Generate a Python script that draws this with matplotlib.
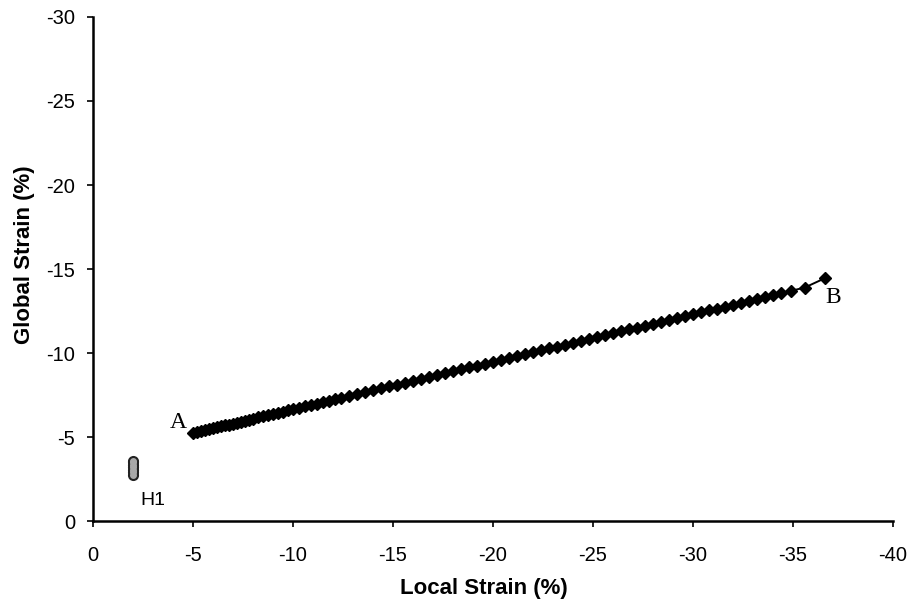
import matplotlib
matplotlib.use("Agg")
import matplotlib.pyplot as plt

# Local vs global strain along the loading path A -> B
local_strain = [
    -5.0, -5.2, -5.4, -5.6, -5.8, -6.0, -6.2, -6.4, -6.6, -6.8, -7.0, -7.2, -7.4,
    -7.6, -7.8, -8.0, -8.25, -8.5, -8.75, -9.0, -9.25, -9.5, -9.75, -10.0, -10.3,
    -10.6, -10.9, -11.2, -11.5, -11.8, -12.1, -12.4, -12.8, -13.2, -13.6, -14.0,
    -14.4, -14.8, -15.2, -15.6, -16.0, -16.4, -16.8, -17.2, -17.6, -18.0, -18.4,
    -18.8, -19.2, -19.6, -20.0, -20.4, -20.8, -21.2, -21.6, -22.0, -22.4, -22.8,
    -23.2, -23.6, -24.0, -24.4, -24.8, -25.2, -25.6, -26.0, -26.4, -26.8, -27.2,
    -27.6, -28.0, -28.4, -28.8, -29.2, -29.6, -30.0, -30.4, -30.8, -31.2, -31.6,
    -32.0, -32.4, -32.8, -33.2, -33.6, -34.0, -34.4, -34.9, -35.6, -36.6,
]
global_strain = [
    -5.25, -5.30, -5.36, -5.41, -5.47, -5.53, -5.58, -5.64, -5.70, -5.75, -5.81,
    -5.87, -5.92, -5.98, -6.04, -6.10, -6.17, -6.24, -6.31, -6.38, -6.45, -6.52,
    -6.59, -6.66, -6.75, -6.83, -6.92, -7.00, -7.09, -7.17, -7.26, -7.34, -7.45,
    -7.57, -7.68, -7.80, -7.91, -8.02, -8.13, -8.25, -8.36, -8.47, -8.59, -8.70,
    -8.81, -8.92, -9.04, -9.15, -9.26, -9.38, -9.49, -9.60, -9.72, -9.83, -9.94,
    -10.05, -10.17, -10.28, -10.39, -10.51, -10.62, -10.73, -10.85, -10.96, -11.07,
    -11.18, -11.30, -11.41, -11.52, -11.64, -11.75, -11.86, -11.98, -12.09, -12.20,
    -12.31, -12.43, -12.54, -12.65, -12.77, -12.88, -12.99, -13.11, -13.22, -13.33,
    -13.44, -13.56, -13.70, -13.90, -14.45,
]

# Cluster of measurements for specimen H1
h1_local = [-2.0, -2.02, -1.98, -2.0, -2.02, -1.99, -2.0]
h1_global = [-2.75, -2.9, -3.05, -3.2, -3.35, -3.5, -3.6]

x_ticks = [0, -5, -10, -15, -20, -25, -30, -35, -40]
y_ticks = [0, -5, -10, -15, -20, -25, -30]

plt.rcParams["font.family"] = ["Liberation Sans", "DejaVu Sans"]

fig = plt.figure(figsize=(9.15, 6.06), dpi=100)
ax = fig.add_axes([0.1016, 0.140, 0.874, 0.832])

ax.plot(local_strain, global_strain, color="black", lw=1.4,
        marker="D", markersize=6.5, markerfacecolor="black",
        markeredgecolor="black", zorder=3)

# H1 cluster: dark outline underneath, grey fill on top
ax.plot(h1_local, h1_global, linestyle="none", marker="o", markersize=8,
        markerfacecolor="#222222", markeredgecolor="none", zorder=3)
ax.plot(h1_local, h1_global, linestyle="none", marker="o", markersize=5,
        markerfacecolor="#a8a8a8", markeredgecolor="none", zorder=4)

ax.set_xlim(0, -40)
ax.set_ylim(0, -30)
ax.set_xticks(x_ticks)
ax.set_yticks(y_ticks)
ax.set_xticklabels([str(v) for v in x_ticks])
ax.set_yticklabels([str(v) for v in y_ticks])
ax.tick_params(direction="out", length=4, width=1.2, labelsize=14.5)
ax.tick_params(axis="x", pad=14)
ax.tick_params(axis="y", pad=9)

for side in ("top", "right"):
    ax.spines[side].set_visible(False)
for side in ("left", "bottom"):
    ax.spines[side].set_linewidth(1.8)

ax.set_xlabel("Local Strain (%)", fontsize=16, fontweight="bold")
ax.set_ylabel("Global Strain (%)", fontsize=16, fontweight="bold")
ax.xaxis.set_label_coords(0.489, -0.113)
ax.yaxis.set_label_coords(-0.0725, 0.528)

ax.text(-4.25, -5.9, "A", fontsize=17, family="Liberation Serif",
        ha="center", va="center")
ax.text(-37.0, -13.3, "B", fontsize=17, family="Liberation Serif",
        ha="center", va="center")
ax.text(-3.0, -1.25, "H1", fontsize=14, ha="center", va="center")

fig.savefig("out.png", dpi=100)
